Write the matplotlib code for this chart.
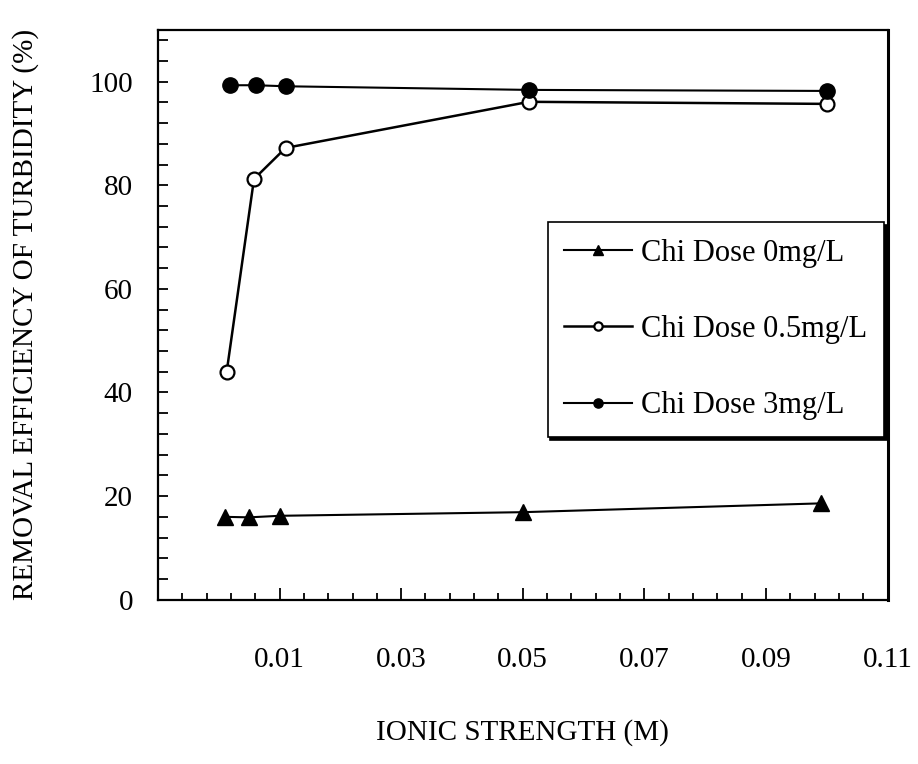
import numpy as np
import matplotlib
matplotlib.use("Agg")
import matplotlib.pyplot as plt
from matplotlib.ticker import FixedLocator, FormatStrFormatter

plt.rcParams['font.family'] = ['Liberation Serif', 'DejaVu Serif']

# ionic strength (M) and removal efficiency (%)
x_dose0 = [0.001, 0.005, 0.010, 0.050, 0.099]
y_dose0 = [16.0, 15.9, 16.2, 16.9, 18.6]

x_dose05 = [0.0013, 0.0058, 0.011, 0.051, 0.100]
y_dose05 = [43.9, 81.2, 87.2, 96.1, 95.7]

x_dose3 = [0.0018, 0.0061, 0.011, 0.051, 0.100]
y_dose3 = [99.3, 99.3, 99.1, 98.4, 98.2]

labels = ['Chi Dose 0mg/L', 'Chi Dose 0.5mg/L', 'Chi Dose 3mg/L']

fig = plt.figure(figsize=(9.18, 7.64), dpi=100)
ax = fig.add_axes([0.172, 0.215, 0.795, 0.746])

ax.plot(x_dose0, y_dose0, color='k', lw=1.5, marker='^', ms=11,
        mfc='k', mec='k', label=labels[0])
ax.plot(x_dose05, y_dose05, color='k', lw=1.8, marker='o', ms=10,
        mfc='white', mec='k', mew=1.6, label=labels[1])
ax.plot(x_dose3, y_dose3, color='k', lw=1.5, marker='o', ms=11,
        mfc='k', mec='k', label=labels[2])

ax.set_xlim(-0.01, 0.11)
ax.set_ylim(0, 110)

ax.xaxis.set_major_locator(FixedLocator(np.arange(0.01, 0.111, 0.02)))
ax.xaxis.set_minor_locator(FixedLocator(np.arange(-0.01, 0.111, 0.004)))
ax.xaxis.set_major_formatter(FormatStrFormatter('%.2f'))
ax.yaxis.set_major_locator(FixedLocator(np.arange(0, 101, 20)))
ax.yaxis.set_minor_locator(FixedLocator(np.arange(0, 111, 4)))

ax.tick_params(axis='x', which='major', direction='in', length=9, width=1.3,
               labelsize=21, pad=34)
ax.tick_params(axis='x', which='minor', direction='in', length=5, width=1.3)
ax.tick_params(axis='y', which='both', direction='in', length=7, width=1.3,
               labelsize=21, pad=18)

for s in ax.spines.values():
    s.set_linewidth(1.6)
ax.spines['right'].set_linewidth(2.2)

ax.set_xlabel('IONIC STRENGTH (M)', fontsize=21, labelpad=33)
ax.set_ylabel('REMOVAL EFFICIENCY OF TURBIDITY (%)', fontsize=21, labelpad=36)

leg = ax.legend(loc='upper left', bbox_to_anchor=(0.534, 0.663), fontsize=22,
                frameon=True, fancybox=False, edgecolor='k', framealpha=1,
                shadow={'color': 'k', 'alpha': 1}, markerscale=0.6,
                handlelength=2.2, handletextpad=0.3, labelspacing=1.55,
                borderpad=0.55, borderaxespad=0)
leg.get_frame().set_linewidth(1.2)

fig.savefig('out.png', dpi=100)
